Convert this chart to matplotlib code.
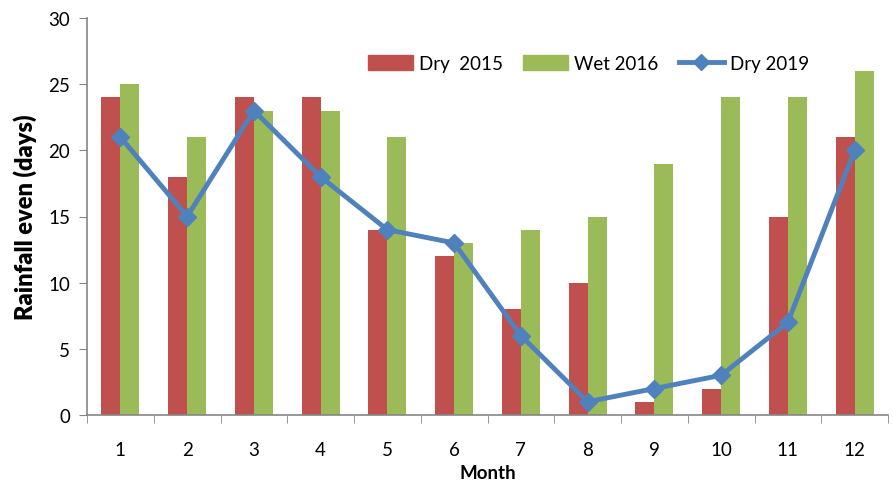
import numpy as np
import matplotlib.pyplot as plt
from matplotlib.patches import Patch
from matplotlib.lines import Line2D

plt.rcParams['font.family'] = ['Lato', 'DejaVu Sans']

months = ['1', '2', '3', '4', '5', '6', '7', '8', '9', '10', '11', '12']
dry_2015 = [24, 18, 24, 24, 14, 12, 8, 10, 1, 2, 15, 21]
wet_2016 = [25, 21, 23, 23, 21, 13, 14, 15, 19, 24, 24, 26]
dry_2019 = [21, 15, 23, 18, 14, 13, 6, 1, 2, 3, 7, 20]

red = '#C0504D'
green = '#9BBB59'
blue = '#4F81BD'
grey = '#868686'

fig = plt.figure(figsize=(8.93, 4.81), dpi=100)
ax = fig.add_axes([87/893, 1 - 416/481, (888-87)/893, (416-19)/481])

x = np.arange(len(months))
w = 0.285
ax.bar(x - w/2, dry_2015, width=w, color=red, zorder=2)
ax.bar(x + w/2, wet_2016, width=w, color=green, zorder=2)
ax.plot(x, dry_2019, color=blue, lw=3.5, marker='D', ms=9, zorder=3)

ax.set_xlim(-0.5, len(months) - 0.5)
ax.set_ylim(0, 30)
ax.set_yticks(range(0, 31, 5))
ax.set_xticks(x)
ax.set_xticklabels(months)
ax.set_xticks(np.arange(-0.5, len(months)), minor=True)
ax.tick_params(axis='x', which='major', length=0, pad=19, labelsize=13.5)
ax.tick_params(axis='x', which='minor', length=6, color=grey, direction='out')
ax.tick_params(axis='y', length=6, color=grey, labelsize=13.5, pad=6)

for s in ['top', 'right']:
    ax.spines[s].set_visible(False)
for s in ['left', 'bottom']:
    ax.spines[s].set_color(grey)
    ax.spines[s].set_linewidth(1.2)

ax.set_ylabel('Rainfall even (days)', fontsize=17, fontweight='heavy', labelpad=8)
ax.set_xlabel('Month', fontsize=13.5, fontweight='bold', labelpad=4)

handles = [Patch(color=red), Patch(color=green),
           Line2D([], [], color=blue, lw=3.5, marker='D', ms=8)]
ax.legend(handles, ['Dry  2015', 'Wet 2016', 'Dry 2019'], loc='upper left',
          bbox_to_anchor=(0.33, 0.95), ncol=3, frameon=False, fontsize=13.5,
          handlelength=2.4, handleheight=0.9, columnspacing=1.1, handletextpad=0.3)

plt.savefig('out.png', dpi=100)
